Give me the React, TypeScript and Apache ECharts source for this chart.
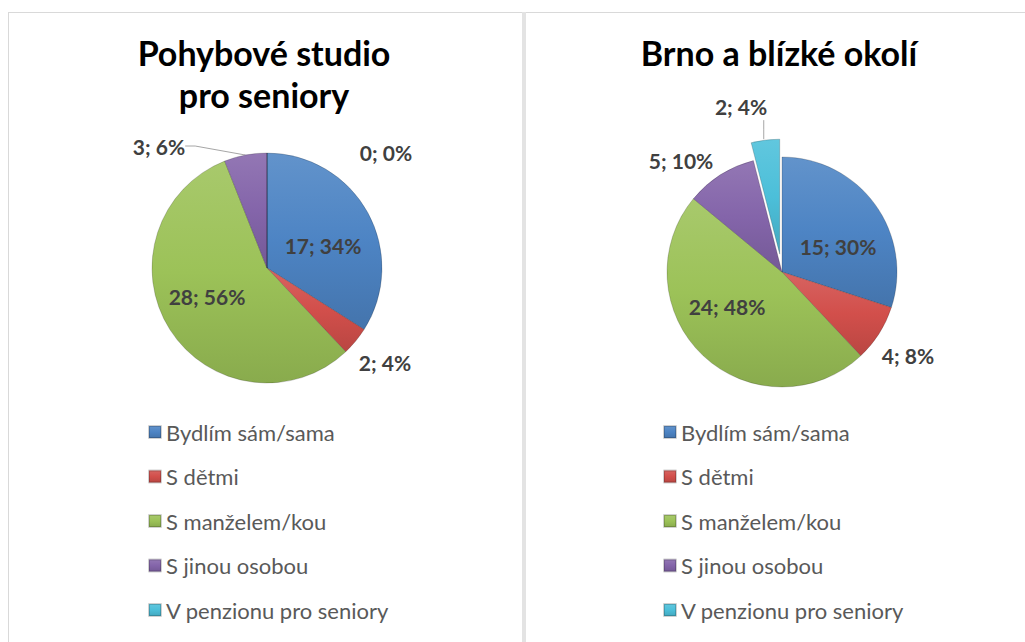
import React, { useEffect, useRef } from "react";
import * as echarts from "echarts";

const categories = [
  "Bydlím sám/sama",
  "S dětmi",
  "S manželem/kou",
  "S jinou osobou",
  "V penzionu pro seniory",
];
const studioValues = [17, 2, 28, 3, 0];
const brnoValues = [15, 4, 24, 5, 2];
const chartTitles = ["Pohybové studio\npro seniory", "Brno a blízké okolí"];
const baseColors = ["#4d84c4", "#d24f4b", "#9cc258", "#8465aa", "#4cbfd9"];

const FONT = "Lato, 'Open Sans', sans-serif";

function mix(hex: string, target: number, t: number): string {
  const n = parseInt(hex.slice(1), 16);
  const r = (n >> 16) & 255, g = (n >> 8) & 255, b = n & 255;
  const f = (c: number) => Math.round(c + (target - c) * t);
  return `rgb(${f(r)},${f(g)},${f(b)})`;
}

function fill(hex: string) {
  return new echarts.graphic.LinearGradient(0, 0, 0, 1, [
    { offset: 0, color: mix(hex, 255, 0.12) },
    { offset: 0.5, color: hex },
    { offset: 1, color: mix(hex, 0, 0.12) },
  ]);
}

// label anchor positions (centre of each label), per chart; null = library's own outside placement
const LABEL_POS: (number[] | null)[][] = [
  [[323, 245], [385, 362], [207, 296], [159, 146], [386, 152]],
  [[838, 246], [908, 355], [727, 306], [681, 160], null],
];
const LINE_SHOWN = [
  [false, false, false, true, false],
  [false, false, false, false, true],
];

export default function App() {
  const ref = useRef<HTMLDivElement>(null);
  useEffect(() => {
    const chart = echarts.init(ref.current!, null, { renderer: "svg" });

    const makeSeries = (idx: number, values: number[], center: number[]) => ({
      type: "pie",
      center,
      radius: 115,
      startAngle: 90,
      clockwise: true,
      selectedMode: "single",
      selectedOffset: 18,
      avoidLabelOverlap: false,
      emphasis: { scale: false },
      select: { itemStyle: {} },
      itemStyle: { borderColor: "rgba(0,0,0,0.18)", borderWidth: 1 },
      label: {
        show: true,
        formatter: "{c}; {d}%",
        fontSize: 21,
        fontWeight: "bold",
        color: "#404040",
        fontFamily: FONT,
      },
      labelLine: {
        show: true,
        length: 10,
        length2: 10,
        lineStyle: { color: "#a6a6a6", width: 1 },
      },
      labelLayout: (p: any) => {
        const pos = LABEL_POS[idx][p.dataIndex];
        if (!pos) {
          return {
            align: "center",
            verticalAlign: "middle",
            labelLinePoints: [
              [766, 157],
              [766, 147],
              [766, 138],
            ],
          };
        }
        return { x: pos[0], y: pos[1], align: "center", verticalAlign: "middle" };
      },
      data: values.map((v, i) => {
        const exploded = idx === 1 && i === 4;
        return {
          name: categories[i],
          value: v,
          selected: exploded,
          itemStyle: { color: fill(baseColors[i]) },
          labelLine: exploded
            ? { show: true, length: 34, length2: 15 }
            : { show: LINE_SHOWN[idx][i] },
          label: exploded ? { distanceToLabelLine: 5 } : {},
        };
      }),
    });

    const legend = (left: number) => ({
      orient: "vertical",
      left,
      top: 420,
      padding: 0,
      icon: "rect",
      itemWidth: 12,
      itemHeight: 12,
      itemGap: 20.5,
      selectedMode: false,
      data: categories,
      textStyle: { fontSize: 22, color: "#595959", fontFamily: FONT, lineHeight: 24 },
    });

    const titleText = (x: number, text: string) => ({
      type: "text",
      x,
      y: 31,
      style: {
        text,
        fontSize: 34,
        fontWeight: "bold",
        fontFamily: FONT,
        fill: "#000",
        align: "center",
        lineHeight: 42,
      },
    });

    chart.setOption({
      animation: false,
      backgroundColor: "#ffffff",
      legend: [legend(148), legend(663)],
      graphic: [
        { type: "line", shape: { x1: 8, y1: 12.5, x2: 1025, y2: 12.5 }, style: { stroke: "#d9d9d9", lineWidth: 1 } },
        { type: "line", shape: { x1: 8.5, y1: 12, x2: 8.5, y2: 642 }, style: { stroke: "#d9d9d9", lineWidth: 1 } },
        { type: "rect", shape: { x: 522, y: 12, width: 4, height: 630 }, style: { fill: "#e3e3e3" } },
        titleText(264, chartTitles[0]),
        titleText(779, chartTitles[1]),
      ],
      series: [makeSeries(0, studioValues, [267, 268]), makeSeries(1, brnoValues, [782, 272])],
    });
    return () => chart.dispose();
  }, []);
  return (
    <div
      ref={ref}
      style={{ position: "fixed", left: 0, top: 0, width: 1025, height: 642 }}
    />
  );
}
